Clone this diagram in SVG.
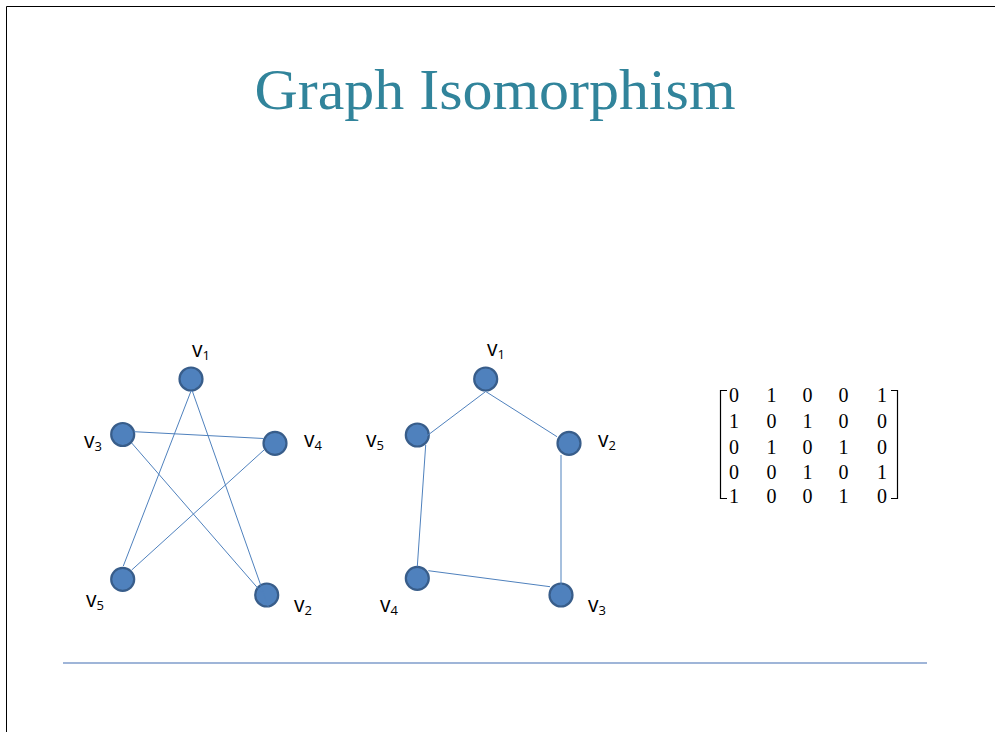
<svg xmlns="http://www.w3.org/2000/svg" width="995" height="732" viewBox="0 0 995 732">
<style>
.n{fill:#4f81bd;stroke:#385d8a;stroke-width:2.2}
.e{stroke:#4f81bd;stroke-width:1;fill:none}
.l{font-family:"Open Sans","Liberation Sans",sans-serif;font-size:21px;fill:#000}
.s{font-size:13px}
.m{font-family:"Liberation Serif","DejaVu Serif",serif;font-size:20px;fill:#000;text-anchor:middle}
.b{stroke:#000;stroke-width:1.2;fill:none}
</style>
<rect x="0" y="0" width="995" height="732" fill="#fff"/>
<path d="M6.5 732 V6.5 H995" fill="none" stroke="#000" stroke-width="1"/>
<text x="495" y="109" text-anchor="middle" font-family="'Liberation Serif','DejaVu Serif',serif" font-size="56" fill="#31849b" textLength="481" lengthAdjust="spacingAndGlyphs">Graph Isomorphism</text>
<line x1="63" y1="663" x2="927" y2="663" stroke="#7f9ccb" stroke-width="1.5"/>

<g id="graph1-nodes">
<g id="g1-v1"><circle class="n" cx="191" cy="379" r="11.5"/><text class="l" x="192" y="357">v<tspan class="s" dy="3">1</tspan></text></g>
<g id="g1-v3"><circle class="n" cx="122.7" cy="434.5" r="11.5"/><text class="l" x="84" y="448">v<tspan class="s" dy="3">3</tspan></text></g>
<g id="g1-v4"><circle class="n" cx="275" cy="443.3" r="11.5"/><text class="l" x="304" y="447">v<tspan class="s" dy="3">4</tspan></text></g>
<g id="g1-v5"><circle class="n" cx="122.7" cy="579.3" r="11.5"/><text class="l" x="86" y="607">v<tspan class="s" dy="3">5</tspan></text></g>
<g id="g1-v2"><circle class="n" cx="266.7" cy="595" r="11.5"/><text class="l" x="294" y="612">v<tspan class="s" dy="3">2</tspan></text></g>
</g>

<g id="graph2-nodes">
<g id="g2-v1"><circle class="n" cx="485.7" cy="379" r="11.5"/><text class="l" x="487" y="356">v<tspan class="s" dy="3">1</tspan></text></g>
<g id="g2-v5"><circle class="n" cx="417.3" cy="435" r="11.5"/><text class="l" x="366" y="447">v<tspan class="s" dy="3">5</tspan></text></g>
<g id="g2-v2"><circle class="n" cx="569" cy="443.3" r="11.5"/><text class="l" x="598" y="447">v<tspan class="s" dy="3">2</tspan></text></g>
<g id="g2-v4"><circle class="n" cx="417.3" cy="578.3" r="11.5"/><text class="l" x="380" y="612">v<tspan class="s" dy="3">4</tspan></text></g>
<g id="g2-v3"><circle class="n" cx="561" cy="595" r="11.5"/><text class="l" x="588" y="612">v<tspan class="s" dy="3">3</tspan></text></g>
</g>

<g id="connectors">
<line class="e" x1="191" y1="391" x2="123.3" y2="566"/>
<line class="e" x1="192.3" y1="391" x2="268.3" y2="606.7"/>
<line class="e" x1="134" y1="431.7" x2="263.5" y2="438.5"/>
<line class="e" x1="131.7" y1="443" x2="262" y2="593"/>
<line class="e" x1="264" y1="450" x2="131.7" y2="570"/>
<line class="e" x1="485.7" y1="391.5" x2="426.7" y2="436"/>
<line class="e" x1="485.7" y1="391.5" x2="557" y2="436.7"/>
<line class="e" x1="425.7" y1="445" x2="417.3" y2="566.5"/>
<line class="e" x1="561" y1="455" x2="561" y2="593"/>
<line class="e" x1="428.3" y1="570.7" x2="550" y2="586.7"/>
</g>

<g id="matrix">
<path class="b" d="M727 390.5 H720.5 V498.5 H727"/>
<path class="b" d="M891 390.5 H897.5 V498.5 H891"/>
<text class="m" y="402"><tspan x="734">0</tspan><tspan x="771.5">1</tspan><tspan x="807.5">0</tspan><tspan x="843.5">0</tspan><tspan x="882">1</tspan></text>
<text class="m" y="428"><tspan x="734">1</tspan><tspan x="771.5">0</tspan><tspan x="807.5">1</tspan><tspan x="843.5">0</tspan><tspan x="882">0</tspan></text>
<text class="m" y="454"><tspan x="734">0</tspan><tspan x="771.5">1</tspan><tspan x="807.5">0</tspan><tspan x="843.5">1</tspan><tspan x="882">0</tspan></text>
<text class="m" y="479"><tspan x="734">0</tspan><tspan x="771.5">0</tspan><tspan x="807.5">1</tspan><tspan x="843.5">0</tspan><tspan x="882">1</tspan></text>
<text class="m" y="503"><tspan x="734">1</tspan><tspan x="771.5">0</tspan><tspan x="807.5">0</tspan><tspan x="843.5">1</tspan><tspan x="882">0</tspan></text>
</g>
</svg>
